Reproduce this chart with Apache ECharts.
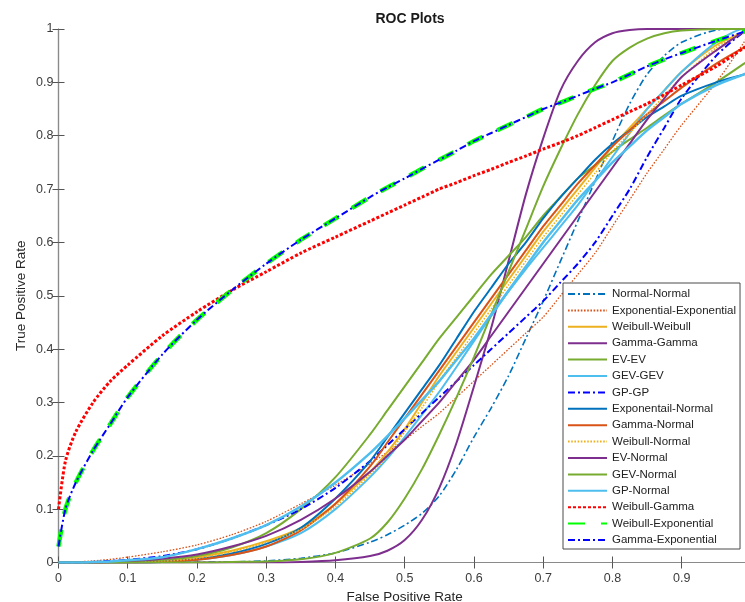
<!DOCTYPE html>
<html>
<head>
<meta charset="utf-8">
<script src="https://cdn.jsdelivr.net/npm/echarts@6/dist/echarts.min.js"></script>
<style>
  html, body { margin: 0; padding: 0; background: #fff; }
  #chart { width: 745px; height: 602px; }
</style>
</head>
<body>
<div id="chart"></div>
<script>
// False positive rate grid shared by every ROC curve
const FPR = [0, 0.01, 0.025, 0.05, 0.075, 0.1, 0.15, 0.2, 0.25, 0.3, 0.35, 0.4, 0.45, 0.475,
             0.5, 0.525, 0.55, 0.575, 0.6, 0.625, 0.65, 0.675, 0.7, 0.725, 0.75, 0.775,
             0.8, 0.825, 0.85, 0.875, 0.9, 0.95, 0.99, 1];

// True positive rate for each model pair (one value per FPR point)
const normalNormal   = [0,0,0,0,0,0,0,0.0005,0.001,0.003,0.008,0.018,0.038,0.052,0.07,0.092,0.125,0.175,0.235,0.29,0.35,0.42,0.49,0.565,0.64,0.715,0.79,0.86,0.915,0.95,0.975,0.998,1,1];
const expExp         = [0,0,0.001,0.003,0.006,0.01,0.02,0.033,0.052,0.077,0.11,0.145,0.185,0.207,0.23,0.255,0.28,0.31,0.34,0.37,0.40,0.43,0.46,0.50,0.54,0.58,0.63,0.68,0.73,0.775,0.82,0.90,0.975,1];
const weibullWeibull = [0,0,0,0,0,0,0.003,0.01,0.022,0.04,0.065,0.11,0.17,0.207,0.25,0.30,0.35,0.395,0.44,0.485,0.53,0.575,0.62,0.66,0.70,0.74,0.78,0.815,0.85,0.885,0.92,0.97,0.995,1];
const gammaGamma     = [0,0,0,0,0,0,0,0,0,0,0.001,0.004,0.012,0.022,0.042,0.08,0.14,0.225,0.33,0.44,0.565,0.69,0.795,0.885,0.94,0.975,0.992,0.998,1,1,1,1,1,1];
const evEv           = [0,0,0,0,0,0.001,0.004,0.012,0.028,0.055,0.1,0.16,0.24,0.285,0.33,0.375,0.42,0.46,0.50,0.54,0.575,0.61,0.65,0.685,0.72,0.745,0.77,0.793,0.815,0.838,0.86,0.90,0.935,0.945];
const gevGev         = [0,0,0,0,0,0,0.001,0.005,0.014,0.03,0.055,0.1,0.16,0.195,0.235,0.277,0.32,0.367,0.415,0.462,0.508,0.55,0.59,0.63,0.67,0.715,0.76,0.805,0.85,0.885,0.92,0.975,1,1];
const gpGp           = [0,0,0,0.001,0.003,0.005,0.012,0.025,0.045,0.07,0.1,0.14,0.19,0.22,0.25,0.28,0.31,0.34,0.37,0.40,0.43,0.46,0.49,0.525,0.56,0.60,0.65,0.70,0.76,0.815,0.87,0.95,0.995,1];
const expNormal      = [0,0,0,0,0,0,0.001,0.006,0.017,0.035,0.065,0.12,0.19,0.235,0.28,0.325,0.37,0.42,0.47,0.515,0.56,0.60,0.645,0.685,0.72,0.755,0.785,0.81,0.835,0.855,0.875,0.90,0.915,0.92];
const gammaNormal    = [0,0,0,0,0,0,0.001,0.005,0.014,0.03,0.06,0.11,0.18,0.225,0.27,0.315,0.36,0.405,0.45,0.495,0.54,0.585,0.63,0.67,0.71,0.745,0.78,0.81,0.84,0.865,0.89,0.935,0.965,0.97];
const weibullNormal  = [0,0,0,0,0,0,0.002,0.008,0.02,0.038,0.062,0.105,0.165,0.2,0.245,0.29,0.34,0.385,0.43,0.475,0.52,0.565,0.61,0.65,0.69,0.73,0.77,0.805,0.84,0.875,0.91,0.965,0.995,1];
const evNormal       = [0,0,0,0,0.001,0.002,0.007,0.015,0.03,0.05,0.08,0.12,0.17,0.2,0.23,0.265,0.3,0.34,0.38,0.425,0.47,0.515,0.56,0.605,0.65,0.695,0.74,0.785,0.83,0.87,0.91,0.96,0.995,1];
const gevNormal      = [0,0,0,0,0,0,0,0,0.001,0.002,0.006,0.018,0.045,0.075,0.12,0.175,0.24,0.31,0.385,0.465,0.545,0.625,0.705,0.775,0.84,0.895,0.94,0.965,0.982,0.992,0.997,1,1,1];
const gpNormal       = [0,0,0,0.001,0.002,0.004,0.01,0.025,0.045,0.07,0.105,0.15,0.205,0.237,0.27,0.305,0.34,0.38,0.42,0.465,0.51,0.555,0.6,0.64,0.68,0.715,0.75,0.78,0.81,0.835,0.86,0.895,0.915,0.92];
const weibullGamma   = [0.1,0.19,0.245,0.3,0.34,0.37,0.425,0.47,0.51,0.545,0.58,0.61,0.64,0.655,0.67,0.685,0.70,0.712,0.725,0.737,0.75,0.762,0.775,0.787,0.80,0.815,0.83,0.845,0.86,0.877,0.895,0.93,0.965,0.975];
const weibullExp     = [0.03,0.1,0.15,0.21,0.26,0.31,0.39,0.455,0.51,0.56,0.605,0.645,0.685,0.703,0.72,0.738,0.755,0.772,0.79,0.805,0.82,0.835,0.85,0.862,0.875,0.888,0.9,0.915,0.93,0.943,0.955,0.978,0.995,1];
const gammaExp       = [0.03,0.1,0.15,0.21,0.26,0.31,0.39,0.455,0.51,0.56,0.605,0.645,0.685,0.703,0.72,0.738,0.755,0.772,0.79,0.805,0.82,0.835,0.85,0.862,0.875,0.888,0.9,0.915,0.93,0.943,0.955,0.978,0.995,1];

const TICKS = [0, 0.1, 0.2, 0.3, 0.4, 0.5, 0.6, 0.7, 0.8, 0.9, 1];

// line dash patterns
const DASHDOT = [7, 3, 2, 3];
const DOTTED = [1.6, 1.6];

const curves = [
  { name: 'Normal-Normal',           y: normalNormal,   color: '#0072BD', width: 1.6, type: DASHDOT },
  { name: 'Exponential-Exponential', y: expExp,         color: '#D95319', width: 1.3, type: DOTTED },
  { name: 'Weibull-Weibull',         y: weibullWeibull, color: '#EDB120', width: 2,   type: 'solid' },
  { name: 'Gamma-Gamma',             y: gammaGamma,     color: '#7E2F8E', width: 2,   type: 'solid' },
  { name: 'EV-EV',                   y: evEv,           color: '#77AC30', width: 2,   type: 'solid' },
  { name: 'GEV-GEV',                 y: gevGev,         color: '#4DBEEE', width: 2,   type: 'solid' },
  { name: 'GP-GP',                   y: gpGp,           color: '#0000FF', width: 2,   type: DASHDOT },
  { name: 'Exponentail-Normal',      y: expNormal,      color: '#0072BD', width: 2,   type: 'solid' },
  { name: 'Gamma-Normal',            y: gammaNormal,    color: '#D95319', width: 2,   type: 'solid' },
  { name: 'Weibull-Normal',          y: weibullNormal,  color: '#EDB120', width: 1.6, type: DOTTED },
  { name: 'EV-Normal',               y: evNormal,       color: '#7E2F8E', width: 2,   type: 'solid' },
  { name: 'GEV-Normal',              y: gevNormal,      color: '#77AC30', width: 2,   type: 'solid' },
  { name: 'GP-Normal',               y: gpNormal,       color: '#4DBEEE', width: 2.5, type: 'solid' },
  { name: 'Weibull-Gamma',           y: weibullGamma,   color: '#FF0000', width: 3,   type: [3, 2] },
  { name: 'Weibull-Exponential',     y: weibullExp,     color: '#00FF00', width: 4.5, type: [17, 16] },
  { name: 'Gamma-Exponential',       y: gammaExp,       color: '#0000FF', width: 2,   type: DASHDOT }
];

const FONT = '"Liberation Sans", Arial, Helvetica, sans-serif';
const AXIS_GREY = '#8a8a8a';
const LABEL_GREY = '#3c3c3c';

const chart = echarts.init(document.getElementById('chart'), null, { renderer: 'canvas' });

const tickFmt = v => {
  const r = Math.round(v * 10) / 10;
  return TICKS.indexOf(r) >= 0 ? String(r) : '';
};

const baseAxis = {
  type: 'value', min: 0, max: 1, interval: 0.1,
  axisLine: { show: true, lineStyle: { color: AXIS_GREY, width: 1.2 } },
  axisTick: { show: true, inside: true, length: 6, lineStyle: { color: '#555', width: 1 } },
  splitLine: { show: false }
};

chart.setOption({
  animation: false,
  backgroundColor: '#fff',
  textStyle: { fontFamily: FONT },
  title: {
    text: 'ROC Plots', left: 405, top: 7, textAlign: 'center',
    textStyle: { fontFamily: FONT, fontSize: 14, fontWeight: 'bold', color: '#1a1a1a' }
  },
  grid: { left: 58.5, top: 29, width: 692.4, height: 533.5, containLabel: false, outerBoundsMode: 'none' },
  legend: {
    orient: 'vertical', left: 563, top: 283,
    padding: [5, 4, 3, 4], itemGap: 4.4, itemWidth: 39, itemHeight: 12,
    backgroundColor: '#fff', borderColor: '#4a4a4a', borderWidth: 1,
    itemStyle: { opacity: 0 },
    textStyle: { fontFamily: FONT, fontSize: 11.5, color: '#222', lineHeight: 12 },
    data: curves.map(c => c.name)
  },
  xAxis: [
    Object.assign({}, baseAxis, {
      position: 'bottom',
      name: 'False Positive Rate', nameLocation: 'middle', nameGap: 27,
      nameTextStyle: { fontFamily: FONT, fontSize: 13.5, color: '#262626' },
      axisLabel: { margin: 10, fontFamily: FONT, fontSize: 12.5, color: LABEL_GREY, formatter: tickFmt }
    }),
    Object.assign({}, baseAxis, { position: 'top', axisLabel: { show: false } })
  ],
  yAxis: [
    Object.assign({}, baseAxis, {
      position: 'left',
      name: 'True Positive Rate', nameLocation: 'middle', nameGap: 30, nameMoveOverlap: false,
      nameTextStyle: { fontFamily: FONT, fontSize: 13.5, color: '#262626' },
      axisLabel: { margin: 5, fontFamily: FONT, fontSize: 12.5, color: LABEL_GREY, formatter: tickFmt }
    }),
    Object.assign({}, baseAxis, { position: 'right', axisLabel: { show: false } })
  ],
  series: curves.map(c => ({
    name: c.name,
    type: 'line',
    xAxisIndex: 0, yAxisIndex: 0,
    data: FPR.map((x, i) => [x, c.y[i]]),
    symbol: 'none',
    smooth: 0.25,
    clip: true,
    lineStyle: { color: c.color, width: c.width, type: c.type, cap: 'butt' },
    itemStyle: { color: c.color }
  }))
});
</script>
</body>
</html>
